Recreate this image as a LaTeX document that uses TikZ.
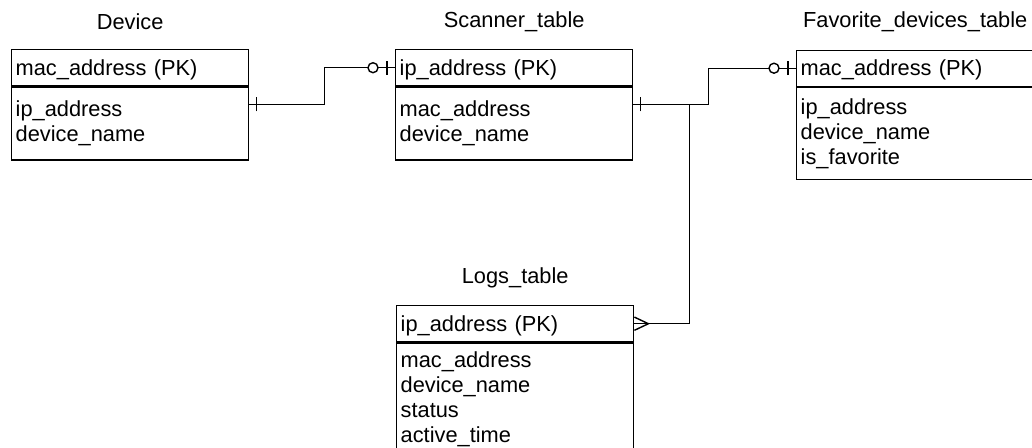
\documentclass[tikz,border=0pt]{standalone}
\usepackage{fontspec}
\setmainfont{Liberation Sans}
\usetikzlibrary{positioning,decorations.markings}
\tikzset{
  every picture/.style={line width=0.7pt},
  tfont/.style={font=\fontsize{10.9}{12.5}\selectfont},
  cell/.style={draw, tfont, anchor=north west, text width=114.5pt,
               inner xsep=2pt, inner ysep=0pt, align=left},
  head/.style={cell, minimum height=18pt, text height=8pt, text depth=0.4pt},
  body/.style={cell},
  title/.style={tfont, inner sep=0pt},
  link/.style={draw, line width=0.7pt},
  one start/.style={postaction={decorate, decoration={markings,
      mark=at position 3.5pt with {\draw[link] (0,-3.5pt) -- (0,3.5pt);}}}},
  zero one end/.style={postaction={decorate, decoration={markings,
      mark=at position -11pt with {\draw[link, fill=white] (0,0) circle (2.5pt);},
      mark=at position -4pt with {\draw[link] (0,-3.5pt) -- (0,3.5pt);}}}},
  many end/.style={postaction={decorate, decoration={markings,
      mark=at position -7pt with {\draw[link] (7pt,3.3pt) -- (0,0) -- (7pt,-3.3pt);}}}},
}
\begin{document}
\begin{tikzpicture}[x=0.5pt,y=-0.5pt]
\useasboundingbox (0,0) rectangle (1032,447);

% tables
\node[head] (dev) at (11,49) {mac\_address (PK)};
\node[body, minimum height=36.5pt] (devb) at (dev.south west) {ip\_address\\device\_name};
\node[title] (devt) at ([yshift=13.5pt]dev.north) {Device};

\node[head] (scan) at (395,49) {ip\_address (PK)};
\node[body, minimum height=36.5pt] (scanb) at (scan.south west) {mac\_address\\device\_name};
\node[title] (scant) at ([yshift=13.5pt]scan.north) {Scanner\_table};

\node[head] (fav) at (796,49.5) {mac\_address (PK)};
\node[body, minimum height=46pt] (favb) at (fav.south west) {ip\_address\\device\_name\\is\_favorite};
\node[title] (favt) at ([yshift=14pt]fav.north) {Favorite\_devices\_table};

\node[head] (logs) at (396,305) {ip\_address (PK)};
\node[body, minimum height=56pt] (logsb) at (logs.south west) {mac\_address\\device\_name\\status\\active\_time};
\node[title] (logst) at ([yshift=13.5pt]logs.north) {Logs\_table};

% relations
\draw[link, one start, zero one end] ([yshift=-9pt]devb.north east) -- ++(75,0) |- (scan.west);
\draw[link, one start, zero one end] ([yshift=-9pt]scanb.north east) -- ++(75,0) |- (fav.west);
\draw[link, many end] ([yshift=-9pt]scanb.north east) -- ++(56,0) |- (logs.east);

\end{tikzpicture}
\end{document}
